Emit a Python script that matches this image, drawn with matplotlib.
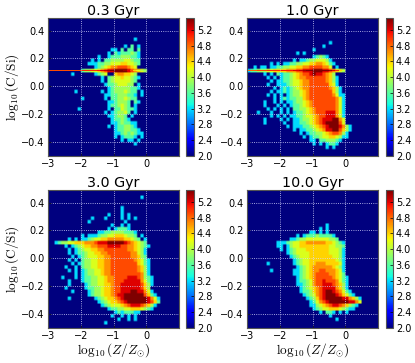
from matplotlib import pyplot as plt
import numpy as np

plt.rcParams['mathtext.fontset'] = 'cm'

titles = ['0.3 Gyr', '1.0 Gyr', '3.0 Gyr', '10.0 Gyr']
cbar_ticks = [2.0, 2.4, 2.8, 3.2, 3.6, 4.0, 4.4, 4.8, 5.2]
x_ticks = [-3, -2, -1, 0]
y_ticks = [-0.4, -0.2, 0.0, 0.2, 0.4]

# log10 counts for each density code
levels = [2.0, 3.2, 3.6, 3.9, 4.15, 4.4, 4.65, 4.9, 5.2, 5.5]

# rows run from C/Si=0.5 down to -0.5 (0.025 a row), columns from Z=-3 (0.1 a column)
grid_03 = [
    "", "", "", "", "", "",
    "..........................1",
    "",
    "......................." "1.2.1",
    "...................1" "1.2.22.2",
    "..................1." "21222321",
    "...............1..12" "22333221",
    ".............1.1.223" "33344322",
    "............11122334" "44554432",
    "..............123456" "6777654",
    "..........2334456788" "9999876543",
    ".......1......1234" "..5665543",
    "................1.23" "44544321",
    "................1.23" "4444432",
    ".................122" "344433.1",
    "..................12" "33333221",
    "........1.......1.12" "3334322.1",
    ".................112" "2333221.1",
    "..........1......1.2" "2334322",
    "..................11" "23332.21",
    "..................12" "23432.1",
    ".........1........1." "2243221",
    ".................1.1" "23342.1",
    "..................11" "2332.1",
    "...................1" "22321",
    "...................1" "1232211",
    "..................1." "1223321",
    "...................." "12233221",
    "...................." "112323211",
    "...................." "1.12221.1",
    "...................." "..1.11.1",
    "...................." "......1",
]
grid_10 = [
    "", "", "", "", "", "", "",
    ".........................1",
    ".......................1",
    "....................1",
    "...............1.1",
    "...................." "12321",
    "..............1.1123" "344431",
    ".......1.1.112233445" "5665421",
    "..1.11.1122334455667" "777664.1",
    "12233344555566677888" "9998876543",
    ".....1.1.21223456778" "9887653",
    "......1.1.1223456677" "77776531",
    ".......1.11223445667" "77776531",
    "......1..11123445667" "77777541",
    "........1.1212345667" "777776531",
    ".......1.11212334567" "777777531",
    "......1.1.1.12334567" "7777776411",
    "........1.1212233567" "7777777641",
    ".....1..1.1.11233456" "7777777641",
    ".....1...1.1.1223456" "7777777641",
    "......1.1.1.1.223345" "6777777641",
    "...1...1..1.1.122345" "6777888641",
    ".......1.1.1.1122344" "5677888641",
    ".....1....1.1.112334" "5678889964",
    ".....1.....1..112234" "5678999974",
    "............1.111223" "4567899986" "31",
    "..............1.1122" "3456889975" "31",
    "................1.12" "2334567763" "1",
    ".................1.1" "2234455431" "1",
    "...................1" "1.2233321",
    "...................." "1.1.1221",
    "...................." "....1.1",
]
grid_30 = [
    "", "",
    "...................." "........1",
    "", "",
    "...................." "..1",
    "...................." "..1",
    "..................1." "..1.1",
    ".............1...1.." "..1.1.1",
    "............1......." "...1",
    "...................1" "..1.1",
    "..................1." "12221",
    "...............11223" "3332221",
    "..........1.11123344" "5554332.1",
    "......1.1.1123445566" "66655432.1",
    "..123344555666788899" "9998765432",
    ".....1.1234556677788" "8877665432" "1",
    "......1.123445566777" "7777665431",
    "......1.122344556677" "7777766431",
    ".......1.12344455667" "7777766532",
    "......1.1.2334455667" "7777776542" "1",
    ".......1.12334455667" "7777777542" "1",
    ".....1..1.2334455667" "7777777653" "1",
    "......1.1.1233445667" "7777777653" "1",
    "........1.1233445667" "7777777763" "1",
    "....1...1.1223344566" "7777888763" "21",
    "......1...1223344566" "7778888864" "21",
    "......1....123344556" "7788888875" "31",
    ".....1.....122334556" "7788888875" "3",
    ".......1....12334556" "7788899886" "41",
    "............12334556" "7889999997" "521",
    "......1.......123455" "6789999999" "8641",
    "...............12345" "5678999999" "8752",
    "................1234" "4456788876" "531",
    "..................12" "2334455543" "21",
    "...................." "12122211",
    "...................1" "..1.1.1",
    "...................." ".1..1.1",
    ".................1",
]
grid_100 = [
    "", "", "", "", "", "", "", "", "", "",
    "...................." "....1",
    "...................." "..1.1",
    "...................1" "1.1.1",
    "...............1.122" "2322221",
    ".............1123344" "44444332",
    ".........11123445566" "66665543" "21",
    ".........11.13445555" "5555544332",
    "..........1.12344455" "5555544431",
    "............12344445" "5555544431",
    ".............1234445" "5555554431",
    "..............123445" "5555555431",
    "......1.......123445" "5666555541",
    "...............12345" "6666665431",
    ".......1......112345" "6677666541",
    "..............112345" "6777766542",
    "...............12345" "6777776542" "1",
    "...............12234" "6778777642" "1",
    "...............11234" "6778887653" "1",
    "................1234" "5678888653" "1",
    "................1223" "5678998764" "21",
    ".................123" "4678999875" "421",
    "..................12" "3578999998" "86531",
    "...................1" "2467899999" "98864",
    "...................1" "1345678876" "5321",
    "...................." "1234455543" "211",
    "...................." "..1.221.1." "1",
    "...................." ".....1",
    "...................." ".......1",
]
grids = [grid_03, grid_10, grid_30, grid_100]

# thin line of stars at the initial abundance ratio, one value per 0.1 in Z
ridge_03 = [4.9, 4.9, 4.9, 4.9, 4.9, 4.9, 4.9, 4.9, 4.9, 4.9,
            5.0, 5.0, 5.0, 5.0, 5.0, 5.1, 5.2, 5.3, 5.4, 5.5,
            5.5, 5.5, 5.5, 5.4, 5.2, 4.9, 4.4, 4.2, 4.0, 3.9]
ridge_10 = [4.8, 4.8, 4.8, 4.9, 4.9, 4.9, 5.0, 5.0, 5.0, 5.0,
            5.1, 5.1, 5.1, 5.1, 5.2, 5.2, 5.3, 5.4, 5.5, 5.5,
            5.5, 5.5, 5.5, 5.5, 5.5, 5.4, 5.2, 5.0, 4.4, 4.1]
ridges = [ridge_03, ridge_10, None, None]

# pixel boxes of the panels: left, top, right, bottom
W, H = 415, 363
ax_boxes = [(48, 18, 179, 156), (247, 18, 378, 156),
            (48, 190, 179, 328), (247, 190, 378, 328)]
cb_boxes = [(186, 18, 194, 156), (386, 18, 393, 156),
            (186, 190, 194, 328), (386, 190, 393, 328)]


def to_rect(box):
    l, t, r, b = box
    return [l / W, 1 - b / H, (r - l) / W, (b - t) / H]


fig = plt.figure(figsize=(W / 100, H / 100), dpi=100)

for i in range(4):
    ax = fig.add_axes(to_rect(ax_boxes[i]))
    rows = [s.ljust(40, '.')[:40] for s in grids[i]]
    rows += ['.' * 40] * (40 - len(rows))
    data = np.array([[levels[0] if c == '.' else levels[int(c)] for c in s] for s in rows])
    # doubling the cells keeps the bilinear blur to a thin rim
    data = data.repeat(2, axis=0).repeat(2, axis=1)
    im = ax.imshow(data, extent=[-3, 1, -0.5, 0.5], aspect='auto', cmap='jet',
                   vmin=2.0, vmax=5.5, interpolation='bilinear', origin='upper')
    if ridges[i] is not None:
        r = np.array(ridges[i])
        xe = -3 + 0.1 * np.arange(len(r) + 1)
        ax.pcolormesh(xe, [0.111, 0.119], r[np.newaxis, :], cmap='jet', vmin=2.0, vmax=5.5)
    ax.set_xlim(-3, 1)
    ax.set_ylim(-0.5, 0.49)
    ax.set_xticks(x_ticks)
    ax.set_yticks(y_ticks)
    ax.grid(True, color='#d8d8ff', linestyle=':', linewidth=0.6)
    ax.tick_params(direction='in', length=2.5, width=0.5, labelsize=7, pad=2.5)
    ax.set_title(titles[i], fontsize=10.3, pad=2)
    for s in ax.spines.values():
        s.set_color('#555555')
    if i % 2 == 0:
        ax.set_ylabel(r'$\log_{10}(\mathrm{C/Si})$', fontsize=9.5, labelpad=0)
    if i >= 2:
        ax.set_xlabel(r'$\log_{10}(Z/Z_{\odot})$', fontsize=9.5, labelpad=0)

    cax = fig.add_axes(to_rect(cb_boxes[i]))
    cb = fig.colorbar(im, cax=cax, ticks=cbar_ticks)
    cb.ax.tick_params(length=2, width=0.5, labelsize=7, pad=2, direction='in')
    cb.ax.set_yticklabels(['%.1f' % t for t in cbar_ticks])
    cb.outline.set_edgecolor('#555555')

fig.savefig('out.png', dpi=100)
